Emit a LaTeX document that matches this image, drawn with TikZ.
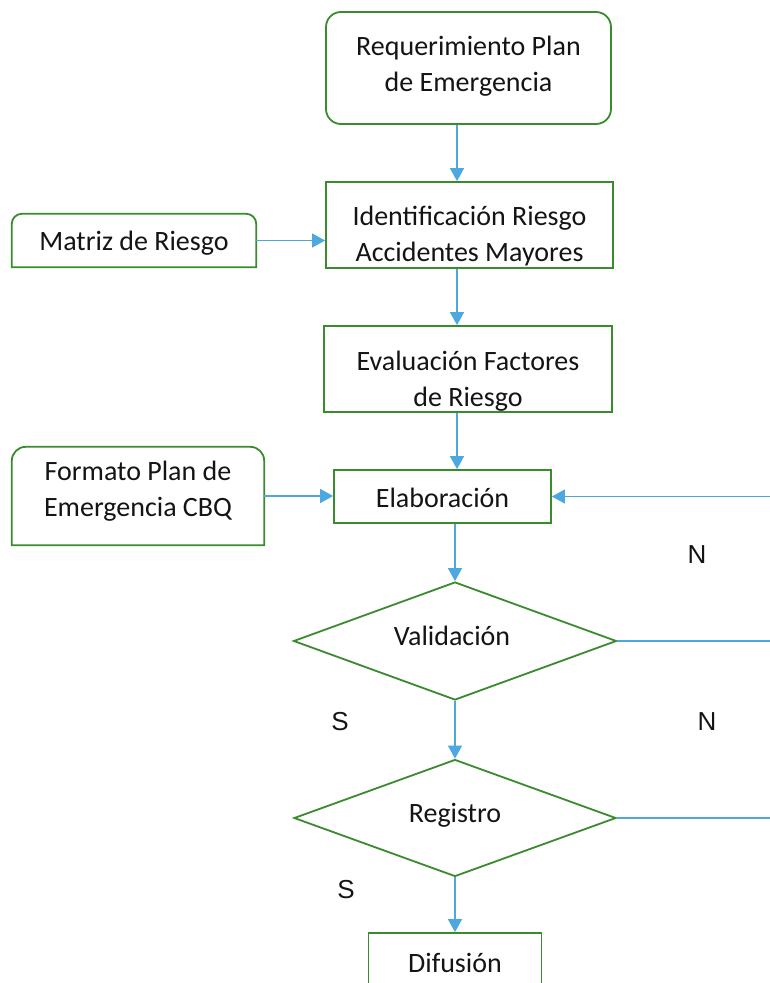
\documentclass[tikz,border=0pt]{standalone}
\usepackage{fontspec}
\setmainfont{Carlito}
\newfontfamily\arialf{Liberation Sans}
\usetikzlibrary{arrows.meta,shapes.geometric}
\definecolor{gborder}{RGB}{58,138,46}
\definecolor{barrow}{RGB}{76,168,222}
\definecolor{txtc}{RGB}{20,20,20}
\begin{document}
\begin{tikzpicture}[x=1pt,y=-1pt,
  gbox/.style={draw=gborder,line width=1.8pt,fill=white,inner sep=0pt},
  gshape/.style={inner sep=0pt},
  gline/.style={draw=gborder,line width=1.8pt,fill=white},
  txt/.style={text=txtc,font=\fontsize{28}{36}\selectfont,align=center,inner sep=0pt},
  flow/.style={draw=barrow,line width=1.3pt,-{Triangle[length=13pt,width=14pt]}},
  plainflow/.style={draw=barrow,line width=1.3pt},
  lbl/.style={text=txtc,font=\arialf\fontsize{26}{30}\selectfont,inner sep=0pt},
  dec/.style={diamond,draw=gborder,line width=1.8pt,fill=white,inner sep=0pt}]
\clip (0,0) rectangle (770,983);
\fill[white] (0,0) rectangle (770,983);

% boxes
\node[gbox,rounded corners=15pt,minimum width=285pt,minimum height=112pt] (req) at (468.5,68) {};
\node[gshape,minimum width=244pt,minimum height=53pt] (matriz) at (134,240.5) {};
\draw[gline] (matriz.south west) -- ([yshift=-10pt]matriz.north west) arc(180:270:10)
  -- ([xshift=-10pt]matriz.north east) arc(270:360:10) -- (matriz.south east) -- cycle;
\node[gbox,minimum width=287pt,minimum height=86pt] (ident) at (469.5,225) {};
\node[gbox,minimum width=288pt,minimum height=86pt] (evalb) at (468,369) {};
\node[gshape,minimum width=252pt,minimum height=98pt] (formato) at (138,496) {};
\draw[gline] (formato.south west) -- ([yshift=-14pt]formato.north west) arc(180:270:14)
  -- ([xshift=-14pt]formato.north east) arc(270:360:14) -- (formato.south east) -- cycle;
\node[gbox,minimum width=217pt,minimum height=53pt] (elab) at (442.5,496.5) {};
\node[dec,minimum width=323pt,minimum height=118pt] (valid) at (455,641) {};
\node[dec,minimum width=322pt,minimum height=117pt] (reg) at (455,818) {};
\node[gbox,minimum width=173pt,minimum height=60pt] (dif) at (455,963) {};

% texts
\node[txt] (reqtxt) at (468.5,66) {Requerimiento Plan\\de Emergencia};
\node[txt] (matriztxt) at (134,243) {Matriz de Riesgo};
\begin{scope}
  \clip ([xshift=1pt,yshift=1pt]ident.south west) rectangle ([xshift=-1pt,yshift=-1pt]ident.north east);
  \node[txt] (identtxt) at (469.5,236) {Identificación Riesgo\\Accidentes Mayores};
\end{scope}
\begin{scope}
  \clip ([xshift=1pt,yshift=1pt]evalb.south west) rectangle ([xshift=-1pt,yshift=-1pt]evalb.north east);
  \node[txt] (evaltxt) at (468,381) {Evaluación Factores\\de Riesgo};
\end{scope}
\node[txt] (formatotxt) at (138,491) {Formato Plan de\\Emergencia CBQ};
\node[txt] (elabtxt) at (442.5,498) {Elaboración};
\node[txt] (validtxt) at (452,636) {Validación};
\node[txt] (regtxt) at (455,815) {Registro};
\node[txt] (diftxt) at (455,963) {Difusión};

% connectors
\coordinate (col) at (457,0);
\draw[flow] (req.south -| col) -- (ident.north -| col);
\draw[flow] (ident.south -| col) -- (evalb.north -| col);
\draw[flow] (evalb.south -| col) -- (elab.north -| col);
\draw[flow] (elab.south -| valid.north) -- (valid.north);
\draw[flow] (valid.south) -- (reg.north);
\draw[flow] (reg.south) -- (dif.north);
\draw[flow] (matriz.east) -- (matriz.east -| ident.west);
\draw[flow] (formato.east) -- (formato.east -| elab.west);
\coordinate (r1) at (775,496.5);
\coordinate (r2) at (775,641);
\coordinate (r3) at (775,818);
\draw[flow] (r1) -- (elab.east);
\draw[plainflow] (valid.east) -- (r2);
\draw[plainflow] (reg.east) -- (r3);

% labels
\node[lbl] (n1) at (697,555) {N};
\node[lbl] (s1) at (340,722) {S};
\node[lbl] (n2) at (707,722) {N};
\node[lbl] (s2) at (346,890) {S};
\end{tikzpicture}
\end{document}
